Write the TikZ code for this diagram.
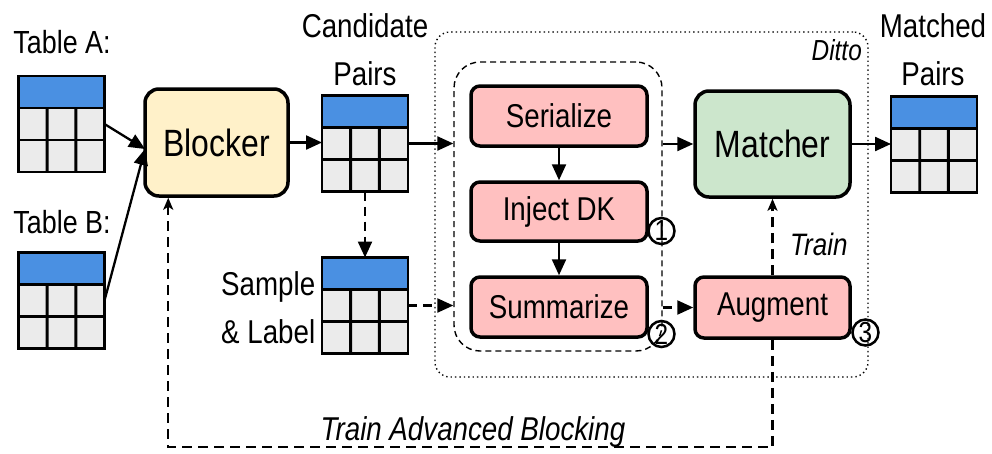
\documentclass[tikz,border=0pt]{standalone}
\usepackage{fontspec}
\setmainfont[FakeStretch=0.84]{Liberation Sans}
\usetikzlibrary{arrows.meta,calc}

\definecolor{hdrblue}{RGB}{74,144,226}
\definecolor{cellgrey}{RGB}{235,235,235}
\definecolor{blockfill}{RGB}{255,241,201}
\definecolor{matchfill}{RGB}{204,230,204}
\definecolor{stepfill}{RGB}{255,192,192}

% a small data table: blue header row over a 2x3 grid of cells
\newcommand\datatable[3]{%
  \node[tbl] (#1) at (#2,#3) {};
  \fill[hdrblue] (#1.north west) rectangle ($(#1.north east)!0.333!(#1.south east)$);
  \draw[tblline] ($(#1.north west)!0.333!(#1.south west)$) -- ($(#1.north east)!0.333!(#1.south east)$);
  \draw[tblline] ($(#1.north west)!0.667!(#1.south west)$) -- ($(#1.north east)!0.667!(#1.south east)$);
  \draw[tblline] ($(#1.south west)!0.333!(#1.south east)$) -- ($($(#1.north west)!0.333!(#1.north east)$)!0.333!($(#1.south west)!0.333!(#1.south east)$)$);
  \draw[tblline] ($(#1.south west)!0.667!(#1.south east)$) -- ($($(#1.north west)!0.667!(#1.north east)$)!0.333!($(#1.south west)!0.667!(#1.south east)$)$);
  \draw[tblline] (#1.north west) rectangle (#1.south east);
}

\begin{document}
\begin{tikzpicture}[x=1pt,y=-1pt,
  tbl/.style={rectangle, fill=cellgrey, minimum width=86pt, minimum height=96pt, inner sep=0pt, outer sep=0pt},
  tblline/.style={line width=2.8pt, line join=miter},
  proc/.style={draw, line width=3.5pt, rounded corners=9pt, inner sep=0pt, align=center,
               font=\fontsize{33}{40}\selectfont},
  bigproc/.style={proc, rounded corners=14pt, font=\fontsize{38}{44}\selectfont},
  lbl/.style={inner sep=0pt, align=center, font=\fontsize{33}{48}\selectfont},
  conn/.style={line width=2.3pt, -{Triangle[length=16pt,width=14pt]}},
  dconn/.style={conn, dash pattern=on 9pt off 6pt},
  fbconn/.style={line width=2.2pt, dash pattern=on 10pt off 6pt, -{Stealth[length=12pt,width=10pt,inset=3pt]}},
  stepnum/.style={circle, draw, line width=2.5pt, minimum size=26pt, inner sep=0pt,
                  font=\fontsize{29}{29}\selectfont}
]
\useasboundingbox (0,0) rectangle (992,453);

% Ditto frame and the serialization group
\node[draw, line width=1.4pt, dash pattern=on 1.4pt off 3pt, rounded corners=15pt,
      minimum width=433pt, minimum height=345pt, inner sep=0pt] (ditto) at (651.5,204.5) {};
\node[draw, line width=1.4pt, dash pattern=on 6pt off 4pt, rounded corners=26pt,
      minimum width=208pt, minimum height=289pt, inner sep=0pt] (core) at (558,206.5) {};
\node[lbl, anchor=base east, font=\fontsize{29}{34}\selectfont\itshape] (dittolbl) at (862,60) {Ditto};

% input tables
\node[lbl, anchor=base, font=\fontsize{32}{40}\selectfont] (tAlbl) at (62,53) {Table A:};
\datatable{tA}{61.5}{124}
\node[lbl, anchor=base, font=\fontsize{32}{40}\selectfont] (tBlbl) at (62,233) {Table B:};
\datatable{tB}{61.5}{300.5}

% blocker
\node[bigproc, fill=blockfill, minimum width=143pt, minimum height=107pt] (blocker) at (216.5,142.5) {Blocker};

% candidate pairs and labeled sample (base = baseline of the last line)
\node[lbl, anchor=base] (cplbl) at (365,85) {Candidate\\Pairs};
\datatable{cp}{365}{143.5}
\datatable{sl}{365}{305.5}
\node[lbl, anchor=base west, align=left] (sllbl) at (221,343) {Sample\\\& Label};

% Ditto steps
\node[proc, fill=stepfill, minimum width=176pt, minimum height=60pt] (ser) at (559,116) {Serialize};
\node[proc, fill=stepfill, minimum width=176pt, minimum height=59pt] (inj) at (559,211.5) {Inject DK};
\node[proc, fill=stepfill, minimum width=176pt, minimum height=60pt] (sum) at (559,307) {Summarize};
\node[bigproc, fill=matchfill, minimum width=155pt, minimum height=106pt] (match) at (772.5,144) {Matcher};
\node[proc, fill=stepfill, minimum width=155pt, minimum height=61pt] (aug) at (772.5,307.5) {Augment};

\node[stepnum] (n1) at (661.5,231) {1};
\node[stepnum] (n2) at (661.5,334) {2};
\node[stepnum] (n3) at (865.5,332.5) {3};

% output
\node[lbl, anchor=base] (mplbl) at (933,85) {Matched\\Pairs};
\datatable{mp}{934}{144.5}

% connectors
\coordinate (bin) at (145,149);
\draw[conn] (tA.east) -- (bin);
\draw[conn] (tB.east) -- (bin);
\draw[conn] (blocker.east) -- (blocker.east -| cp.west);
\draw[conn] (cp.east) -- (cp.east -| core.west);
\draw[dconn] (cp.south) -- (sl.north);
\draw[dconn] (sl.east) -- (sl.east -| core.west);
\draw[conn] (ser) -- (inj);
\draw[conn] (inj) -- (sum);
\draw[conn] (core.east |- match.west) -- (match.west);
\draw[dconn] (core.east |- aug.west) -- (aug.west);
\draw[conn] (match.east) -- (match.east -| mp.west);

\draw[fbconn] (aug.north) -- (match.south);
\node[lbl, anchor=base west, font=\fontsize{31}{36}\selectfont\itshape] (trainlbl) at (790,255) {Train};

\coordinate (fbturn) at (772.5,447);
\draw[fbconn] (aug.south) -- (fbturn) -| ($(blocker.south west)+(25,0)$);
\node[lbl, anchor=base, font=\fontsize{33}{40}\selectfont\itshape] (fblbl) at (473,440) {Train Advanced Blocking};
\end{tikzpicture}
\end{document}
